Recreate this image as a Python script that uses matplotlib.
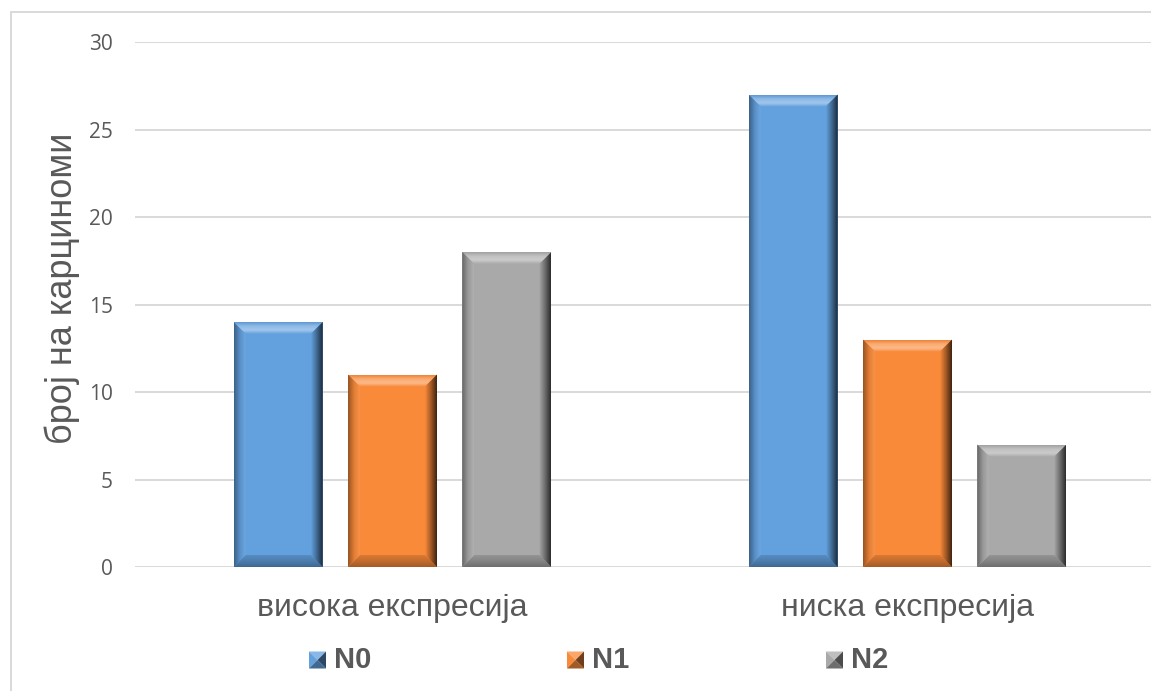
import numpy as np
import matplotlib
matplotlib.use("Agg")
import matplotlib.pyplot as plt
from matplotlib.patches import Polygon, Rectangle
from matplotlib.colors import LinearSegmentedColormap, to_rgb

# ---- data ----
categories = ["висока експресија", "ниска експресија"]
series_names = ["N0", "N1", "N2"]
values_N0 = [14, 27]
values_N1 = [11, 13]
values_N2 = [18, 7]
series_values = [values_N0, values_N1, values_N2]
y_ticks = [0, 5, 10, 15, 20, 25, 30]
y_label = "број на карциноми"

face_colors = ["#62A0DE", "#F98A3A", "#A9A9A9"]
TEXT = "#595959"
GRID = "#D9D9D9"

W, H, DPI = 1151, 691, 100
fig = plt.figure(figsize=(W / DPI, H / DPI), dpi=DPI)

# outer frame of the chart area
fig.patches.append(Rectangle((11 / W, -0.1), 1.2, 1 - 12 / H + 0.1,
                             transform=fig.transFigure, fill=False,
                             edgecolor=GRID, linewidth=1.4, zorder=0))

ax_l, ax_r, ax_b, ax_t = 135, 1165, 567, 42
ax = fig.add_axes([ax_l / W, 1 - ax_b / H, (ax_r - ax_l) / W, (ax_b - ax_t) / H])
ax.set_xlim(-0.5, len(categories) - 0.5)
ax.set_ylim(0, 30)

for s in ax.spines.values():
    s.set_visible(False)
ax.set_yticks(y_ticks)
ax.yaxis.grid(True, color=GRID, linewidth=1.4)
ax.set_axisbelow(True)
ax.tick_params(axis="both", length=0)
ax.tick_params(axis="y", pad=16, labelsize=15, labelcolor=TEXT)
for lab in ax.get_yticklabels():
    lab.set_fontfamily("Open Sans")
ax.set_xticks(range(len(categories)))
ax.set_xticklabels(categories, fontsize=23, color=TEXT, family="Liberation Sans")
ax.tick_params(axis="x", pad=19)
ax.set_ylabel(y_label, fontsize=26, color=TEXT, family="Liberation Sans",
              va="center", ha="center")
ax.yaxis.set_label_coords(-0.071, 0.53)

bar_w = 0.173
step = 0.222
x = np.arange(len(categories))


def mix(c, other, t):
    c = np.array(to_rgb(c))
    o = np.array(to_rgb(other))
    return tuple(c * (1 - t) + o * t)


def grad_poly(ax, pts, colors, vertical, extent):
    cmap = LinearSegmentedColormap.from_list("g", colors)
    ramp = np.linspace(0, 1, 256)
    img = ramp.reshape(-1, 1) if vertical else ramp.reshape(1, -1)
    im = ax.imshow(img, cmap=cmap, extent=extent, aspect="auto", origin="lower",
                   interpolation="bilinear", zorder=3)
    clip = Polygon(pts, closed=True, facecolor="none", edgecolor="none",
                   transform=ax.transData)
    ax.add_patch(clip)
    im.set_clip_path(clip)


bars_all = []
for i, (vals, col) in enumerate(zip(series_values, face_colors)):
    bars = ax.bar(x + (i - 1) * step, vals, width=bar_w, color=col,
                  edgecolor="none", zorder=2, label=series_names[i])
    bars_all.append((bars, col))

ax.set_xlim(-0.5, len(categories) - 0.5)
ax.set_ylim(0, 30)

# bevel sizes in pixels -> data units
px_x = (ax_r - ax_l) / 2.0
px_y = (ax_b - ax_t) / 30.0
bx = 12 / px_x
by = 12 / px_y

for bars, col in bars_all:
    for rect in bars:
        x0, y0 = rect.get_x(), rect.get_y()
        x1, y1 = x0 + rect.get_width(), y0 + rect.get_height()
        # top bevel
        grad_poly(ax, [(x0, y1), (x1, y1), (x1 - bx, y1 - by), (x0 + bx, y1 - by)],
                  [col, mix(col, "white", 0.40), mix(col, "white", 0.28), mix(col, "black", 0.05)],
                  True, (x0, x1, y1 - by, y1))
        # bottom bevel
        grad_poly(ax, [(x0, y0), (x1, y0), (x1 - bx, y0 + by), (x0 + bx, y0 + by)],
                  [mix(col, "black", 0.35), mix(col, "black", 0.22), mix(col, "black", 0.12)],
                  True, (x0, x1, y0, y0 + by))
        # left bevel
        grad_poly(ax, [(x0, y0), (x0 + bx, y0 + by), (x0 + bx, y1 - by), (x0, y1)],
                  [mix(col, "black", 0.4), mix(col, "black", 0.1), mix(col, "white", 0.08)],
                  False, (x0, x0 + bx, y0, y1))
        # right bevel
        grad_poly(ax, [(x1, y0), (x1 - bx, y0 + by), (x1 - bx, y1 - by), (x1, y1)],
                  [col, mix(col, "black", 0.35), mix(col, "black", 0.75)],
                  False, (x1 - bx, x1, y0, y1))

ax.set_xlim(-0.5, len(categories) - 0.5)
ax.set_ylim(0, 30)

# legend with pyramid-shaped swatches
legend_x = [309, 567, 826]
sz = 17
cy = 660
for name, col, lx in zip(series_names, face_colors, legend_x):
    l, r = lx / W, (lx + sz) / W
    t, b = 1 - (cy - sz / 2) / H, 1 - (cy + sz / 2) / H
    mx, my = (l + r) / 2, (t + b) / 2
    tris = [
        ([(l, t), (r, t), (mx, my)], mix(col, "white", 0.25)),
        ([(l, b), (l, t), (mx, my)], col),
        ([(r, t), (r, b), (mx, my)], mix(col, "black", 0.55)),
        ([(l, b), (r, b), (mx, my)], mix(col, "black", 0.35)),
    ]
    for pts, c in tris:
        fig.patches.append(Polygon(pts, closed=True, facecolor=c, edgecolor="none",
                                   transform=fig.transFigure))
    fig.text((lx + sz + 8) / W, 1 - cy / H, name, fontsize=21, fontweight="bold",
             color=TEXT, family="Liberation Sans", va="center", ha="left")

fig.savefig("out.png", dpi=DPI)
